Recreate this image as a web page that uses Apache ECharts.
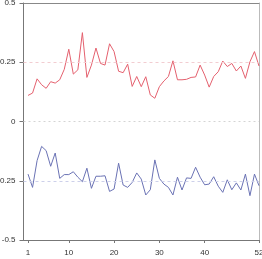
<!DOCTYPE html>
<html><head><meta charset="utf-8">
<script src="https://cdn.jsdelivr.net/npm/echarts@6/dist/echarts.min.js"></script>
<style>html,body{margin:0;padding:0;background:#fff}#c{width:262px;height:259px}</style>
</head><body><div id="c"></div>
<script>
const xTicks = [1, 10, 20, 30, 40, 52];
const yTicks = [-0.5, -0.25, 0, 0.25, 0.5];
const redValues = [0.11, 0.12, 0.18, 0.155, 0.14, 0.168, 0.162, 0.176, 0.22, 0.305,
  0.2, 0.218, 0.375, 0.186, 0.238, 0.31, 0.245, 0.238, 0.328, 0.295,
  0.212, 0.206, 0.242, 0.148, 0.19, 0.147, 0.189, 0.112, 0.098, 0.147,
  0.171, 0.19, 0.256, 0.176, 0.176, 0.178, 0.186, 0.188, 0.238, 0.196,
  0.145, 0.19, 0.21, 0.255, 0.232, 0.245, 0.213, 0.234, 0.182, 0.252,
  0.295, 0.234];
const blueValues = [-0.222, -0.278, -0.165, -0.105, -0.123, -0.189, -0.133, -0.24, -0.224, -0.224,
  -0.212, -0.235, -0.254, -0.197, -0.282, -0.231, -0.231, -0.229, -0.295, -0.285,
  -0.176, -0.268, -0.278, -0.257, -0.217, -0.243, -0.31, -0.288, -0.162, -0.24,
  -0.264, -0.278, -0.31, -0.235, -0.289, -0.238, -0.24, -0.193, -0.235, -0.267,
  -0.264, -0.233, -0.273, -0.299, -0.246, -0.288, -0.259, -0.289, -0.222, -0.313,
  -0.222, -0.271];
const refRed = 0.25, refZero = 0, refBlue = -0.25;

const toPts = arr => arr.map((v, i) => [i + 1, v]);
const fontFam = '"Liberation Sans", Arial, sans-serif';
const chart = echarts.init(document.getElementById('c'), null, {renderer: 'canvas'});
const ml = (y, color, type) => ({
  silent: true, symbol: 'none', label: {show: false},
  lineStyle: {color: color, type: type, width: 1},
  data: [{yAxis: y}], animation: false
});
chart.setOption({
  animation: false,
  grid: {left: 23.5, right: 3, top: 3, bottom: 19, containLabel: false, outerBoundsMode: 'none'},
  xAxis: [{
    type: 'value', min: 0, max: 52, position: 'bottom',
    axisLine: {show: true, onZero: false, lineStyle: {color: '#777', width: 1}},
    axisTick: {show: true, length: 3, customValues: xTicks, lineStyle: {color: '#777'}},
    axisLabel: {show: true, customValues: xTicks, fontSize: 8, color: '#333', margin: 9, fontFamily: fontFam,
      hideOverlap: false},
    splitLine: {show: false}
  }, {
    type: 'value', min: 0, max: 52, position: 'top',
    axisLine: {show: true, onZero: false, lineStyle: {color: '#888', width: 1}},
    axisTick: {show: false}, axisLabel: {show: false}, splitLine: {show: false}
  }],
  yAxis: [{
    type: 'value', min: -0.5, max: 0.5, interval: 0.25, position: 'left',
    axisLine: {show: true, onZero: false, lineStyle: {color: '#777', width: 1}},
    axisTick: {show: true, length: 4, lineStyle: {color: '#777'}},
    axisLabel: {show: true, fontSize: 8, color: '#333', margin: 8, fontFamily: fontFam,
      customValues: yTicks, formatter: v => String(v)},
    splitLine: {show: false}
  }, {
    type: 'value', min: -0.5, max: 0.5, position: 'right',
    axisLine: {show: true, onZero: false, lineStyle: {color: '#bbb', width: 1}},
    axisTick: {show: false}, axisLabel: {show: false}, splitLine: {show: false}
  }],
  series: [{
    type: 'line', data: toPts(redValues), showSymbol: false, symbol: 'none',
    lineStyle: {color: '#e4606e', width: 1}, itemStyle: {color: '#e4606e'},
    markLine: ml(refRed, '#f2cdd1', [3, 3])
  }, {
    type: 'line', data: toPts(blueValues), showSymbol: false, symbol: 'none',
    lineStyle: {color: '#6a72b4', width: 1}, itemStyle: {color: '#6a72b4'},
    markLine: ml(refBlue, '#cdd0ea', [3, 3])
  }, {
    type: 'line', data: [], showSymbol: false,
    markLine: ml(refZero, '#d4d4d4', [2, 3])
  }]
});
</script></body></html>
